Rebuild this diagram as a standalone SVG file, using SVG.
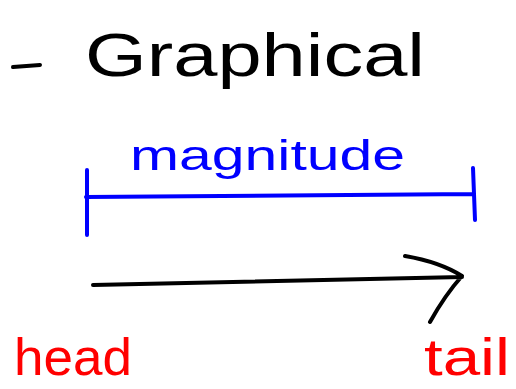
<svg xmlns="http://www.w3.org/2000/svg" width="516" height="389" viewBox="0 0 516 389">
<style>
.ink{fill:none;stroke-linecap:round;stroke-linejoin:round;stroke-width:4}
.t{font-family:"Liberation Sans","DejaVu Sans",sans-serif}
</style>
<rect width="516" height="389" fill="#fff"/>
<g id="title">
<path class="ink" stroke="#000" stroke-width="5" d="M13,67 L40,65"/>
<text class="t" x="85" y="76" font-size="62" fill="#000" textLength="340" lengthAdjust="spacingAndGlyphs">Graphical</text>
</g>
<g id="magnitude">
<text class="t" x="130" y="170" font-size="42" fill="#0000ff" textLength="275" lengthAdjust="spacingAndGlyphs">magnitude</text>
<path class="ink" stroke="#0000ff" d="M86,197 L474,194 M87,170 L87,235 M473,168 L475,220"/>
</g>
<g id="connectors">
<path class="ink" stroke="#000" d="M93,285 L462,277 M405,256 Q440,262 462,276 Q445,295 430,322"/>
</g>
<g id="head">
<text class="t" x="14" y="375" font-size="52" fill="#ff0000" textLength="118" lengthAdjust="spacingAndGlyphs">head</text>
</g>
<g id="tail">
<text class="t" x="424" y="375" font-size="52" fill="#ff0000" textLength="86" lengthAdjust="spacingAndGlyphs">tail</text>
</g>
</svg>
